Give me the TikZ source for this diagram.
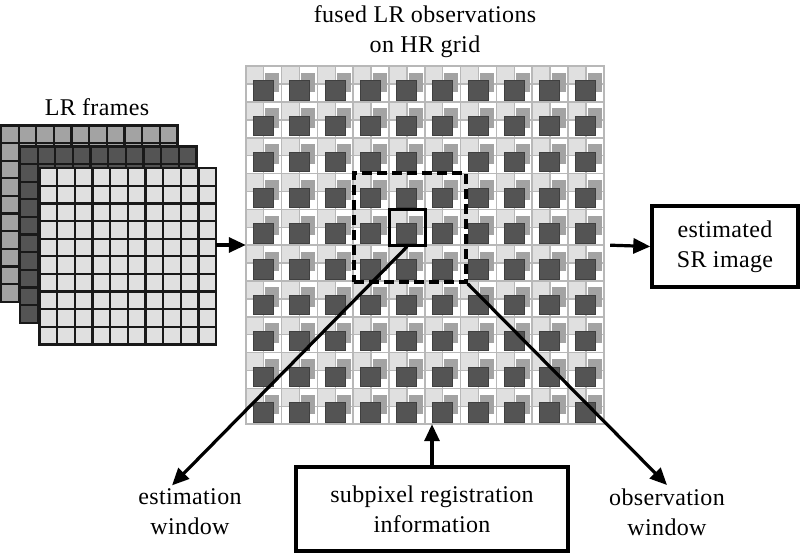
\documentclass[tikz,border=0pt]{standalone}
\usepackage{fontspec}
\setmainfont{Liberation Serif}[LetterSpace=1.5]
\usetikzlibrary{positioning, arrows.meta, calc}

\definecolor{pixlight}{gray}{0.88}
\definecolor{pixmid}{gray}{0.64}
\definecolor{pixdark}{gray}{0.33}
\definecolor{gridgray}{gray}{0.72}

\begin{document}
\begin{tikzpicture}[x=1pt, y=1pt, font=\fontsize{24}{30}\selectfont,
  box/.style={draw, line width=3.4pt, align=center, inner sep=0pt},
  arr/.style={-{Triangle[length=17pt, width=15pt]}, line width=3.2pt},
  lbl/.style={align=center}]
  \useasboundingbox (0,0) rectangle (800,554);

  % LR frames, back to front
  \foreach \fx/\fy/\fc [count=\k] in {1/429/pixmid, 20/408/pixdark, 39.5/386.3/pixlight} {
    \node[minimum size=176.5pt, inner sep=0pt, anchor=north west] (lr\k) at (\fx,\fy) {};
    \fill[\fc] (lr\k.south west) rectangle (lr\k.north east);
    \begin{scope}[shift={(lr\k.south west)}]
      \draw[black!90, line width=2.3pt, step=17.65] (0,0) grid (176.5,176.5);
      \draw[black!90, line width=2.3pt] (0,0) rectangle (176.5,176.5);
    \end{scope}
  }
  \node (lrlabel) at (97,447) {LR frames};

  % fused observations on the HR grid
  \node[minimum size=358pt, inner sep=0pt] (hr) at (425,309) {};
  \begin{scope}[shift={(hr.south west)}]
    \foreach \i in {0,...,9}
      \foreach \j in {0,...,9}
        \fill[pixlight] (\i*35.8, 358-\j*35.8) rectangle ++(17.9,-17.9);
    \draw[gridgray, line width=1.5pt, step=17.9] (0,0) grid (358,358);
    \draw[gridgray, line width=1.5pt] (0,0) rectangle (358,358);
    \foreach \i in {0,...,9}
      \foreach \j in {0,...,9} {
        \coordinate (c) at (\i*35.8, 358-\j*35.8);
        \fill[pixmid] ($(c)+(19.5,-6.5)$) rectangle ++(14,-19.5);
        \filldraw[pixdark, draw=black!75, line width=0.6pt] ($(c)+(7.5,-14.3)$) rectangle ++(20,-19.5);
      }
  \end{scope}
  \node[lbl] (title) at (425,522) {fused LR observations\\on HR grid};

  % windows
  \node[draw, line width=3.4pt, dash pattern=on 10pt off 5pt, minimum width=112pt, minimum height=109pt, inner sep=0pt] (obswin) at (410,326.5) {};
  \node[draw, line width=3pt, minimum size=36pt, inner sep=0pt] (estwin) at (407.1,326.9) {};

  % boxes and labels
  \node[box, minimum width=146pt, minimum height=81pt] (sr) at (725,307.5) {estimated\\SR image};
  \node[box, minimum width=272pt, minimum height=84pt] (sub) at (432,45) {subpixel registration\\information};
  \node[lbl] (estlbl) at (190,42) {estimation\\window};
  \node[lbl] (obslbl) at (667,42) {observation\\window};

  \draw[arr] (lr3.east |- hr.west) -- (hr.west);
  \draw[arr, shorten <=6pt] (hr.east) -- (sr.west);
  \draw[arr] (sub.north) -- (sub.north |- hr.south);
  \draw[arr] (estwin.south) -- ([xshift=-18pt]estlbl.north);
  \draw[arr] (obswin.south east) -- (obslbl.north);
\end{tikzpicture}
\end{document}
